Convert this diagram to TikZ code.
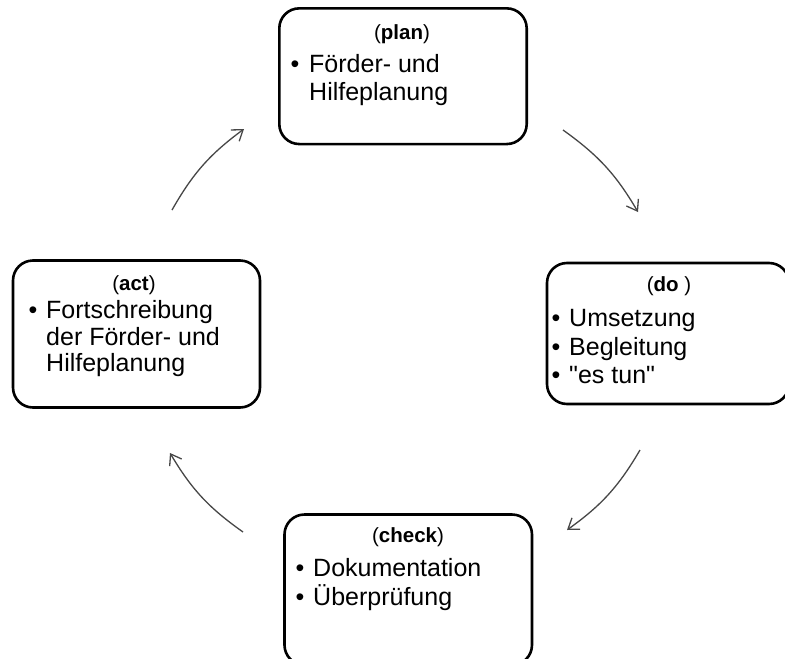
\documentclass[tikz,border=0pt]{standalone}
\usepackage{fontspec}
\setmainfont{Liberation Sans}
\newfontfamily\plainfont{Liberation Sans}
\usetikzlibrary{arrows.meta}
\begin{document}
\begin{tikzpicture}[x=1pt,y=-1pt,
  box/.style={draw=black, line width=2.6pt, rounded corners=20pt, inner sep=0pt, outer sep=0pt},
  ttl/.style={anchor=base, inner sep=0pt, font=\fontsize{20.5}{24}\selectfont},
  itm/.style={anchor=base west, inner sep=0pt, font=\fontsize{25}{27}\selectfont},
  bul/.style={anchor=base, inner sep=0pt, font=\fontsize{25}{27}\selectfont},
  arr/.style={draw=black!72, line width=1.3pt, -{Straight Barb[length=10pt,width=14pt]}}
]
\useasboundingbox (0,0) rectangle (785,659);

% boxes
\node[box, minimum width=247.4pt, minimum height=135.7pt] (plan) at (403,76.2) {};
\node[box, minimum width=242pt, minimum height=141pt] (do) at (668,333.5) {};
\node[box, minimum width=247pt, minimum height=147pt] (act) at (136.5,334) {};
\node[box, minimum width=247.5pt, minimum height=150.5pt] (check) at (408.25,589.75) {};

% plan
\node[ttl] (plant) at (402,39) {(\textbf{plan})};
\node[bul] (planb1) at (295,72.7) {•};
\node[itm] (plan1) at (309,72.7) {Förder- und};
\node[itm] (plan2) at (309,100) {Hilfeplanung};

% do
\node[ttl] (dot) at (669,291.7) {(\textbf{do} )};
\node[bul] (dob1) at (556,326.7) {•};
\node[itm] (do1) at (569,326.7) {Umsetzung};
\node[bul] (dob2) at (556,355) {•};
\node[itm] (do2) at (569,355) {Begleitung};
\node[bul] (dob3) at (556,383.3) {•};
\node[itm] (do3) at (569,383.3) {\plainfont "es tun"};

% act
\node[ttl] (actt) at (134,290) {(\textbf{act})};
\node[bul] (actb1) at (33,318.3) {•};
\node[itm] (act1) at (46,318.3) {Fortschreibung};
\node[itm] (act2) at (46,345) {der Förder- und};
\node[itm] (act3) at (46,371.7) {Hilfeplanung};

% check
\node[ttl] (checkt) at (408,542) {(\textbf{check})};
\node[bul] (checkb1) at (300,576.7) {•};
\node[itm] (check1) at (313,576.7) {Dokumentation};
\node[bul] (checkb2) at (300,605) {•};
\node[itm] (check2) at (313,605) {Überprüfung};

% arrow end points
\coordinate (a1s) at (172,210);
\coordinate (a1e) at (244,129);
\coordinate (a2s) at (563,130);
\coordinate (a2e) at (638,212);
\coordinate (a3s) at (640,450);
\coordinate (a3e) at (567,530);
\coordinate (a4s) at (243,532);
\coordinate (a4e) at (170,453);

\draw[arr] (a1s) to[bend left=12] (a1e);
\draw[arr] (a2s) to[bend left=12] (a2e);
\draw[arr] (a3s) to[bend left=12] (a3e);
\draw[arr] (a4s) to[bend left=12] (a4e);
\end{tikzpicture}
\end{document}
